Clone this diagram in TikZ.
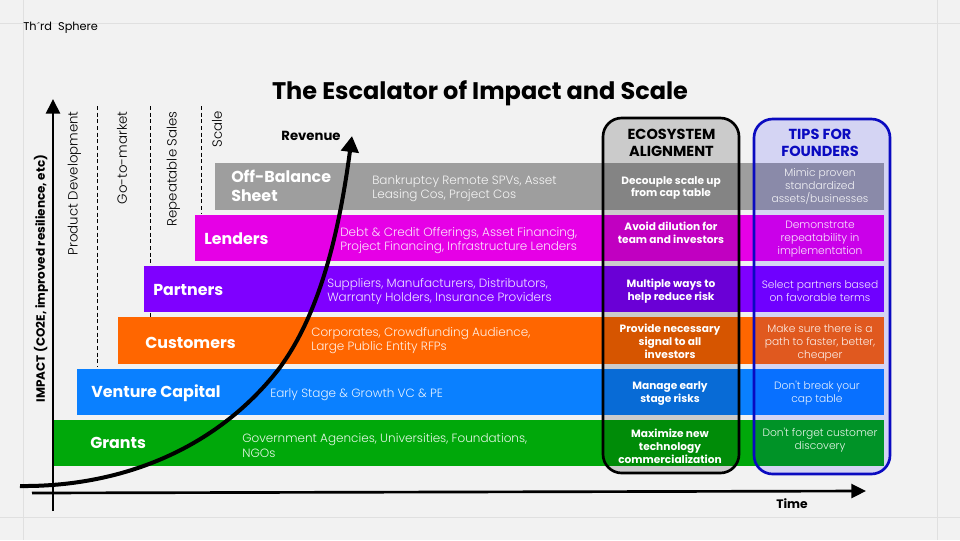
\documentclass[tikz,border=0pt]{standalone}
\usepackage{fontspec}
\setmainfont{Poppins}
\newfontfamily\lightf{Poppins Light}
\newfontfamily\semif{Poppins SemiBold}
\newfontfamily\boldf{Poppins Bold}
\usetikzlibrary{arrows.meta}
\definecolor{bgc}{HTML}{F2F2F2}
\definecolor{gridc}{HTML}{E0E0E0}
\definecolor{cgray}{HTML}{9E9E9E}
\definecolor{cmag}{HTML}{E600E6}
\definecolor{cpur}{HTML}{7F00FF}
\definecolor{cora}{HTML}{FF6600}
\definecolor{cblu}{HTML}{0A80FF}
\definecolor{cgrn}{HTML}{00A80A}
\definecolor{cbord}{HTML}{0A0AC0}
\tikzset{
  x=0.75pt,y=-0.75pt,
  barfill/.style={fill=#1,draw=none},
  head/.style={text=white,font=\boldf\fontsize{11.9}{14.3}\selectfont,anchor=west,align=left,inner sep=0pt},
  desc/.style={text=white,font=\lightf\fontsize{9}{10.7}\selectfont,anchor=west,align=left,inner sep=0pt,opacity=.9},
  eco/.style={text=white,font=\boldf\fontsize{7.95}{9.7}\selectfont,align=center,inner sep=0pt},
  tipt/.style={text=white,font=\lightf\fontsize{8}{9.8}\selectfont,align=center,inner sep=0pt,opacity=.9},
  phase/.style={rotate=90,font=\lightf\fontsize{10}{11}\selectfont,inner sep=0pt,anchor=east},
  gridl/.style={draw=gridc,line width=.5pt},
  dashl/.style={draw=black,line width=.6pt,dash pattern=on 3pt off 2pt},
  axisl/.style={draw=black,line width=2pt,-{Triangle[length=11pt,width=10.5pt]}},
  panel/.style={rounded corners=14pt,line width=2pt,fill opacity=#1,draw opacity=1},
  panelh/.style={font=\boldf\fontsize{10.9}{13.2}\selectfont,align=center,inner sep=0pt},
  lab/.style={font=\boldf\fontsize{9.9}{11}\selectfont,inner sep=0pt},
}
\begin{document}
\begin{tikzpicture}
\useasboundingbox (0,0) rectangle (960,540);
\fill[bgc] (0,0) rectangle (960,540);
\draw[gridl] (0,23) -- (960,23);
\draw[gridl] (0,517) -- (960,517);
\draw[gridl] (23,0) -- (23,540);
\draw[gridl] (937,0) -- (937,540);
\node[anchor=west,inner sep=0pt,font=\fontsize{8.5}{10}\selectfont] (brand) at (23,28) {Th\kern.5pt\raisebox{.25ex}{\scalebox{.8}{\textasciiacute}}\kern.5pt rd\ \ Sphere};
\node[font=\boldf\fontsize{18}{22}\selectfont] (title) at (480,93) {The Escalator of Impact and Scale};

% phase separators
\coordinate (d1a) at (97.5,106); \coordinate (d1b) at (97.5,367);
\coordinate (d2a) at (150,106);  \coordinate (d2b) at (150,317);
\coordinate (d3a) at (201.5,106);\coordinate (d3b) at (201.5,214);
\draw[dashl] (d1a) -- (d1b);
\draw[dashl] (d2a) -- (d2b);
\draw[dashl] (d3a) -- (d3b);
\node[phase] (p1) at (74.5,111) {Product Development};
\node[phase] (p2) at (122,111) {Go-to-market};
\node[phase] (p3) at (173.5,111) {Repeatable Sales};
\node[phase] (p4) at (217,111) {Scale};

% bars
\fill[barfill=cgray] (215,163) rectangle (884,209.5);
\fill[barfill=cmag]  (195,215) rectangle (884,261);
\fill[barfill=cpur]  (144,266) rectangle (884,312);
\fill[barfill=cora]  (118,317) rectangle (884,363.5);
\fill[barfill=cblu]  (77,368.5) rectangle (884,414.5);
\fill[barfill=cgrn]  (54,420) rectangle (884,466);

\node[head,text width=100pt] (h1) at (231,186) {Off-Balance\\Sheet};
\node[head] (h2) at (204,239) {Lenders};
\node[head] (h3) at (153,290) {Partners};
\node[head] (h4) at (145,343) {Customers};
\node[head] (h5) at (91,393) {Venture Capital};
\node[head] (h6) at (90,443) {Grants};

\node[desc] (t1) at (372,189) {Bankruptcy Remote SPVs, Asset\\Leasing Cos, Project Cos};
\node[desc] (t2) at (340,240.5) {Debt \& Credit Offerings, Asset Financing,\\Project Financing, Infrastructure Lenders};
\node[desc] (t3) at (327,291.5) {Suppliers, Manufacturers, Distributors,\\Warranty Holders, Insurance Providers};
\node[desc] (t4) at (311,340.5) {Corporates, Crowdfunding Audience,\\Large Public Entity RFPs};
\node[desc] (t5) at (270,394.5) {Early Stage \& Growth VC \& PE};
\node[desc] (t6) at (242,445.5) {Government Agencies, Universities, Foundations,\\NGOs};

% panels
\draw[panel=.16,fill=black,draw=black] (603,118) rectangle (739,473);
\draw[panel=.12,fill=blue,draw=cbord] (754,119) rectangle (890,474);
\node[panelh] (ecoh) at (671.5,143) {ECOSYSTEM\\ALIGNMENT};
\node[panelh,text=cbord] (tiph) at (820,143) {TIPS FOR\\FOUNDERS};

\node[eco] (e1) at (671,188) {Decouple scale up\\from cap table};
\node[eco] (e2) at (671,232.5) {Avoid dilution for\\team and investors};
\node[eco] (e3) at (671,291) {Multiple ways to\\help reduce risk};
\node[eco] (e4) at (670,341) {Provide necessary\\signal to all\\investors};
\node[eco] (e5) at (670,393.5) {Manage early\\stage risks};
\node[eco] (e6) at (670,446.5) {Maximize new\\technology\\commercialization};

\node[tipt] (f1) at (820,186.5) {Mimic proven\\standardized\\assets/businesses};
\node[tipt] (f2) at (820,239.5) {Demonstrate\\repeatability in\\implementation};
\node[tipt] (f3) at (820,291) {Select partners based\\on favorable terms};
\node[tipt] (f4) at (820,343) {Make sure there is a\\path to faster, better,\\cheaper};
\node[tipt] (f5) at (817,393.5) {Don't break your\\cap table};
\node[tipt] (f6) at (820,440.5) {Don't forget customer\\discovery};

% axes
\coordinate (y0) at (53,511); \coordinate (y1) at (53,99);
\coordinate (x0) at (32,493); \coordinate (x1) at (866,491);
\draw[axisl] (y0) -- (y1);
\draw[axisl] (x0) -- (x1);
\node[rotate=90,font=\boldf\fontsize{9}{10}\selectfont,inner sep=0pt] (ylab) at (41,278.5) {IMPACT (CO2E, improved resilience, etc)};
\node[font=\boldf\fontsize{9.2}{11}\selectfont,inner sep=0pt] (xlab) at (792,504) {Time};
\node[lab] (rev) at (311,136) {Revenue};

% revenue curve
\coordinate (c0) at (20,486);
\coordinate (c1) at (352,136);
\draw[draw=black,line width=3pt,-{Triangle[length=12pt,width=13pt]}]
  (c0) .. controls (120,487) and (215,450) .. (278,370)
  .. controls (322,312) and (340,225) .. (c1);
\end{tikzpicture}
\end{document}
